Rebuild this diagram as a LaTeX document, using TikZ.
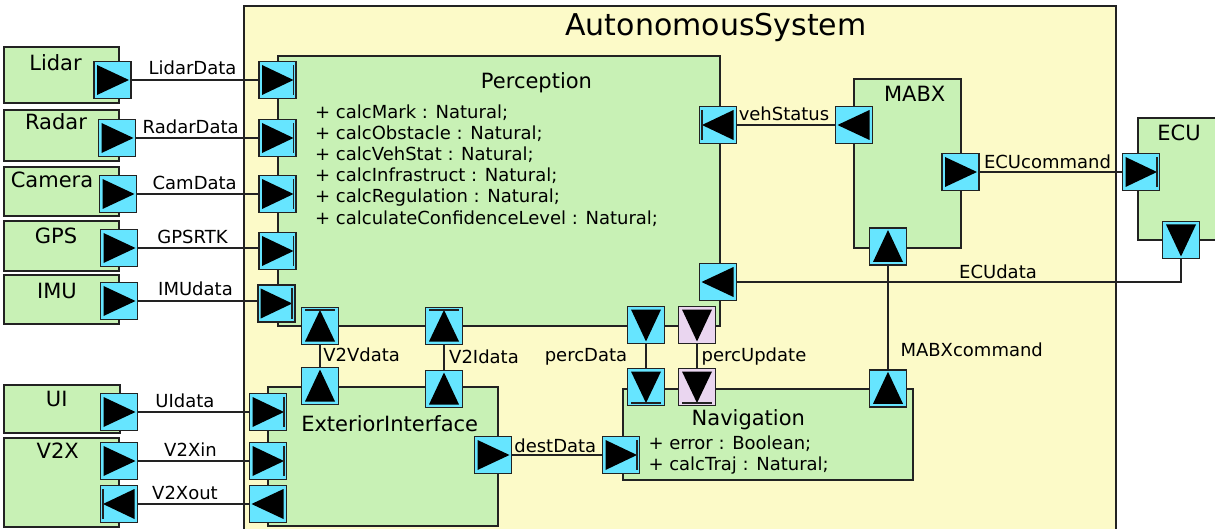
\documentclass[tikz,border=0pt]{standalone}
\usepackage{fontspec}
\setmainfont{DejaVu Sans}
\definecolor{ylw}{RGB}{252,250,200}
\definecolor{grn}{RGB}{200,241,181}
\definecolor{cyn}{RGB}{102,229,255}
\definecolor{pnk}{RGB}{234,214,240}
\definecolor{lc}{RGB}{34,34,34}
\tikzset{
  blk/.style={draw=lc, line width=1.8pt, fill=grn},
  sysbox/.style={draw=lc, line width=1.8pt, fill=ylw},
  port/.style={draw=lc, line width=1.8pt, fill=cyn, minimum size=37pt, inner sep=0pt, outer sep=0pt},
  pinkport/.style={port, fill=pnk},
  conn/.style={draw=lc, line width=2pt},
  lbl/.style={anchor=base, inner sep=0pt, font=\fontsize{18}{21}\selectfont},
  attr/.style={anchor=base west, inner sep=0pt, font=\fontsize{18}{21}\selectfont},
  nm/.style={anchor=base, inner sep=0pt, font=\fontsize{21}{25}\selectfont},
  ttl/.style={anchor=base, inner sep=0pt, font=\fontsize{30}{35}\selectfont},
  tR/.style={path picture={\fill[black] ([xshift=3pt,yshift=-3.5pt]path picture bounding box.north west) -- ([xshift=-2pt]path picture bounding box.east) -- ([xshift=3pt,yshift=3.5pt]path picture bounding box.south west) -- cycle;}},
  tRb/.style={path picture={\fill[black] ([xshift=3pt,yshift=-3.5pt]path picture bounding box.north west) -- ([xshift=-2.5pt]path picture bounding box.east) -- ([xshift=3pt,yshift=3.5pt]path picture bounding box.south west) -- cycle;
     \draw[lc,line width=1.3pt] ([xshift=-2.6pt,yshift=-3.5pt]path picture bounding box.north east) -- ([xshift=-2.6pt,yshift=3.5pt]path picture bounding box.south east);}},
  tL/.style={path picture={\fill[black] ([xshift=-3pt,yshift=-3.5pt]path picture bounding box.north east) -- ([xshift=2pt]path picture bounding box.west) -- ([xshift=-3pt,yshift=3.5pt]path picture bounding box.south east) -- cycle;}},
  tLb/.style={path picture={\fill[black] ([xshift=-3pt,yshift=-3.5pt]path picture bounding box.north east) -- ([xshift=2.5pt]path picture bounding box.west) -- ([xshift=-3pt,yshift=3.5pt]path picture bounding box.south east) -- cycle;
     \draw[lc,line width=1.3pt] ([xshift=2.6pt,yshift=-3.5pt]path picture bounding box.north west) -- ([xshift=2.6pt,yshift=3.5pt]path picture bounding box.south west);}},
  tU/.style={path picture={\fill[black] ([xshift=3.5pt,yshift=3pt]path picture bounding box.south west) -- ([yshift=-2pt]path picture bounding box.north) -- ([xshift=-3.5pt,yshift=3pt]path picture bounding box.south east) -- cycle;}},
  tUb/.style={path picture={\fill[black] ([xshift=3.5pt,yshift=3pt]path picture bounding box.south west) -- ([yshift=-2.5pt]path picture bounding box.north) -- ([xshift=-3.5pt,yshift=3pt]path picture bounding box.south east) -- cycle;
     \draw[lc,line width=1.3pt] ([xshift=3.5pt,yshift=-2.6pt]path picture bounding box.north west) -- ([xshift=-3.5pt,yshift=-2.6pt]path picture bounding box.north east);}},
  tD/.style={path picture={\fill[black] ([xshift=3.5pt,yshift=-3pt]path picture bounding box.north west) -- ([yshift=2pt]path picture bounding box.south) -- ([xshift=-3.5pt,yshift=-3pt]path picture bounding box.north east) -- cycle;}},
  tDb/.style={path picture={\fill[black] ([xshift=3.5pt,yshift=-3pt]path picture bounding box.north west) -- ([yshift=2.5pt]path picture bounding box.south) -- ([xshift=-3.5pt,yshift=-3pt]path picture bounding box.north east) -- cycle;
     \draw[lc,line width=1.3pt] ([xshift=3.5pt,yshift=2.6pt]path picture bounding box.south west) -- ([xshift=-3.5pt,yshift=2.6pt]path picture bounding box.south east);}},
}
\begin{document}
\begin{tikzpicture}[x=1pt,y=-1pt]
\useasboundingbox (0,0) rectangle (1215,529);
% system
\path[sysbox] (244,6) rectangle (1116,545);
\node[ttl] (title) at (716,36) {AutonomousSystem};
% outside blocks
\path[blk] (4,47) rectangle (119,103);
\path[blk] (4,110) rectangle (119,161);
\path[blk] (4,167) rectangle (119,216);
\path[blk] (4,221) rectangle (119,271);
\path[blk] (4,275) rectangle (119,324);
\path[blk] (4,385) rectangle (120,433);
\path[blk] (4,438) rectangle (119,527);
\path[blk] (1138,118) rectangle (1225,240);
% inner blocks
\path[blk] (278,56) rectangle (720,326);
\path[blk] (854,79) rectangle (961,248);
\path[blk] (268,387) rectangle (498,526);
\path[blk] (623,389) rectangle (913,480);
% block names
\node[nm] (nLidar) at (55.5,70.7) {Lidar};
\node[nm] (nRadar) at (56,130) {Radar};
\node[nm] (nCam) at (52,187.3) {Camera};
\node[nm] (nGPS) at (56,243.3) {GPS};
\node[nm] (nIMU) at (57,298.3) {IMU};
\node[nm] (nUI) at (56.7,406) {UI};
\node[nm] (nV2X) at (57.7,458.3) {V2X};
\node[nm] (nECU) at (1179,140.7) {ECU};
\node[nm] (nMABX) at (914.7,101.7) {MABX};
\node[nm] (nPerc) at (536.5,88.3) {Perception};
\node[nm] (nExt) at (389.7,431.7) {ExteriorInterface};
\node[nm] (nNav) at (748.3,425.7) {Navigation};
% attributes
\foreach \t [count=\i] in {calcMark, calcObstacle, calcVehStat, calcInfrastruct, calcRegulation, calculateConfidenceLevel}
  \node[attr] (pa\i) at (315,{118.3+21.15*(\i-1)}) {+ \t{} : Natural;};
\node[attr] (na1) at (648.3,449) {+ error : Boolean;};
\node[attr] (na2) at (648.3,470) {+ calcTraj : Natural;};
% ports
\node[port,tR] (sLidar) at (112.5,80) {};
\node[port,tR] (sRadar) at (117,138) {};
\node[port,tR] (sCam) at (118,194) {};
\node[port,tR] (sGPS) at (119,248) {};
\node[port,tR] (sIMU) at (119,301) {};
\node[port,tR] (sUI) at (119,412) {};
\node[port,tR] (sV2Xin) at (119,461) {};
\node[port,tLb] (dV2Xout) at (119,504) {};
\node[port,tRb] (dLidar) at (277.5,80) {};
\node[port,tRb] (dRadar) at (277.5,138) {};
\node[port,tRb] (dCam) at (277.5,194) {};
\node[port,tRb] (dGPS) at (277.5,251) {};
\node[port,tRb] (dIMU) at (276.2,303.5) {};
\node[port,tUb] (dV2V) at (320,326) {};
\node[port,tUb] (dV2I) at (444,326) {};
\node[port,tD] (sPerc) at (646,325) {};
\node[pinkport,tD] (sPercUp) at (697,325) {};
\node[port,tLb] (dVeh) at (718,125) {};
\node[port,tL] (dECUdata) at (718,282) {};
\node[port,tL] (sVeh) at (854,125) {};
\node[port,tR] (sECUcmd) at (960.5,172) {};
\node[port,tU] (dMABXcmd) at (888,246.5) {};
\node[port,tRb] (dECUcmd) at (1141,172) {};
\node[port,tD] (sECUdata) at (1181,240) {};
\node[port,tRb] (dUI) at (268,412) {};
\node[port,tRb] (dV2Xin) at (268,461) {};
\node[port,tL] (sV2Xout) at (268,504) {};
\node[port,tU] (sV2V) at (320,386) {};
\node[port,tU] (sV2I) at (444,389) {};
\node[port,tR] (sDest) at (493,455) {};
\node[port,tRb] (dDest) at (621,455) {};
\node[port,tDb] (dPerc) at (646,387) {};
\node[pinkport,tDb] (dPercUp) at (697,387) {};
\node[port,tU] (sMABXcmd) at (888,388.3) {};
% connectors
\path[conn] (sLidar.east) -- (dLidar.west);
\path[conn] (sRadar.east) -- (dRadar.west);
\path[conn] (sCam.east) -- (dCam.west);
\path[conn] (sGPS.east) -- (sGPS.east -| dGPS.west);
\path[conn] (sIMU.east) -- (sIMU.east -| dIMU.west);
\path[conn] (sUI.east) -- (dUI.west);
\path[conn] (sV2Xin.east) -- (dV2Xin.west);
\path[conn] (sV2Xout.west) -- (dV2Xout.east);
\path[conn] (sV2V.north) -- (dV2V.south);
\path[conn] (sV2I.north) -- (dV2I.south);
\path[conn] (sPerc.south) -- (dPerc.north);
\path[conn] (sPercUp.south) -- (dPercUp.north);
\path[conn] (sDest.east) -- (dDest.west);
\path[conn] (sMABXcmd.north) -- (dMABXcmd.south);
\path[conn] (sVeh.west) -- (dVeh.east);
\path[conn] (sECUcmd.east) -- (dECUcmd.west);
\path[conn] (sECUdata.south) |- (dECUdata.east);
% connector labels
\node[lbl] (lLidar) at (192.5,75) {LidarData};
\node[lbl] (lRadar) at (190.7,134) {RadarData};
\node[lbl] (lCam) at (194.7,190) {CamData};
\node[lbl] (lGPS) at (192.5,244) {GPSRTK};
\node[lbl] (lIMU) at (195.5,295) {IMUdata};
\node[lbl] (lUI) at (185,407.7) {UIdata};
\node[lbl] (lV2Xin) at (190.5,456) {V2Xin};
\node[lbl] (lV2Xout) at (185,499) {V2Xout};
\node[lbl] (lV2V) at (361.7,361.7) {V2Vdata};
\node[lbl] (lV2I) at (484,363) {V2Idata};
\node[lbl] (lPerc) at (586,361) {percData};
\node[lbl] (lPercUp) at (754,361.5) {percUpdate};
\node[lbl] (lDest) at (555.3,452.7) {destData};
\node[lbl] (lMABX) at (971.7,356.7) {MABXcommand};
\node[lbl] (lVeh) at (784,121) {vehStatus};
\node[lbl] (lECUcmd) at (1047.5,168.3) {ECUcommand};
\node[lbl] (lECUdata) at (998,278.3) {ECUdata};
\end{tikzpicture}
\end{document}
